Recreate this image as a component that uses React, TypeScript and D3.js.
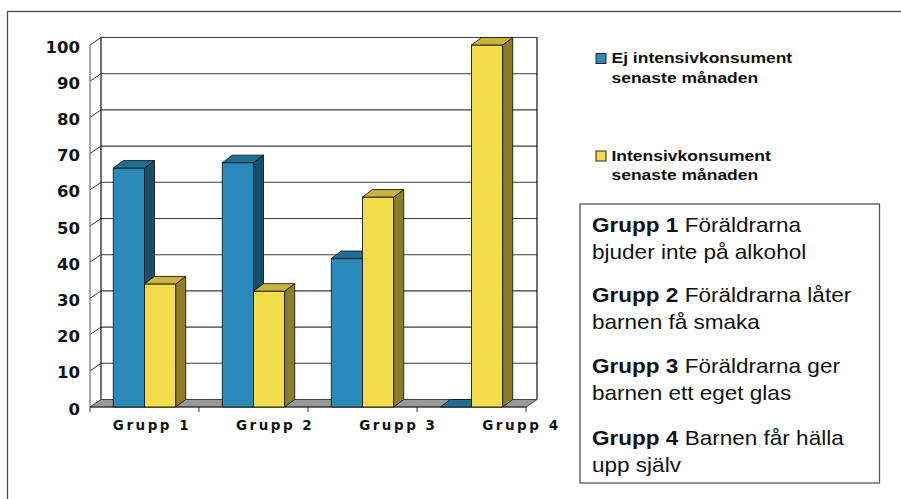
import React from "react";
import * as d3 from "d3";

const groups = ["Grupp 1", "Grupp 2", "Grupp 3", "Grupp 4"];
const seriesNames = ["Ej intensivkonsument", "Intensivkonsument"];
const seriesSub = ["senaste månaden", "senaste månaden"];
const ejValues = [66, 67.5, 41, 0];
const intValues = [34, 32, 58, 100];
const yTicks = [0, 10, 20, 30, 40, 50, 60, 70, 80, 90, 100];
const boxBold = ["Grupp 1", "Grupp 2", "Grupp 3", "Grupp 4"];
const boxRest = [" Föräldrarna", " Föräldrarna låter", " Föräldrarna ger", " Barnen får hälla"];
const boxSecond = ["bjuder inte på alkohol", "barnen få smaka", "barnen ett eget glas", "upp själv"];

const W = 901;
const H = 499;

const blue = { front: "#2a8aba", top: "#1f6e95", side: "#174f6a" };
const yellow = { front: "#f3dc4a", top: "#c9b53c", side: "#8b7e2a" };
const colors = [blue, yellow];

export default function App() {
  const x0 = 90, x1 = 526;
  const wdx = 11, wdy = -7.5; // wall depth
  const bdx = 10, bdy = -7.5; // bar depth
  const y = d3.scaleLinear().domain([0, 100]).range([407, 45]);
  const xBand = d3.scaleBand<string>().domain(groups).range([x0, x1]).paddingInner(0).paddingOuter(0);
  const inner = d3.scaleBand<number>().domain([0, 1]).range([0, xBand.bandwidth()]).paddingInner(0).paddingOuter(0.745);
  const labelX = d3.scalePoint<string>().domain(groups).range([152, 521.4]);
  const series = [ejValues, intValues];
  const base = y(0);
  const stroke = "#1a1a1a";

  const bars: React.ReactNode[] = [];
  groups.forEach((g, gi) => {
    [0, 1].forEach((si) => {
      const v = series[si][gi];
      const bx = (xBand(g) as number) + (inner(si) as number);
      const bw = inner.bandwidth();
      const top = y(v);
      const c = colors[si];
      const key = `${gi}-${si}`;
      bars.push(
        <g key={key}>
          {v > 0 && (
            <>
              <rect x={bx} y={top} width={bw} height={base - top} fill={c.front} stroke={stroke} strokeWidth={0.9} />
              <polygon
                points={`${bx + bw},${top} ${bx + bw + bdx},${top + bdy} ${bx + bw + bdx},${base + bdy} ${bx + bw},${base}`}
                fill={c.side}
                stroke={stroke}
                strokeWidth={0.9}
              />
            </>
          )}
          <polygon
            points={`${bx},${top} ${bx + bdx},${top + bdy} ${bx + bw + bdx},${top + bdy} ${bx + bw},${top}`}
            fill={c.top}
            stroke={stroke}
            strokeWidth={0.9}
          />
        </g>
      );
    });
  });

  const sans = "'Liberation Sans', Arial, sans-serif";
  const axisFont = "'DejaVu Sans', Verdana, sans-serif";
  const boxBaselines = [232, 259, 302, 329, 373, 400, 445, 472];
  const sx = 1.25;
  const bsx = 1.1;

  return (
    <div style={{ position: "fixed", left: 0, top: 0, width: W, height: H, background: "#fff" }}>
      <svg width={W} height={H} style={{ display: "block" }}>
        <rect x={0} y={0} width={W} height={H} fill="#fff" />
        <rect x={7.5} y={11.5} width={1000} height={1000} fill="none" stroke="#4a4a4a" strokeWidth={1.3} />

        {/* back wall gridlines */}
        {yTicks.filter((t) => t > 0).map((t) => (
          <g key={`g${t}`}>
            <line x1={x0 + wdx} x2={x1 + wdx} y1={y(t) + wdy} y2={y(t) + wdy} stroke="#3a3a3a" strokeWidth={1.1} />
            <line x1={x0} x2={x0 + wdx} y1={y(t)} y2={y(t) + wdy} stroke="#3a3a3a" strokeWidth={1} />
          </g>
        ))}
        <line x1={x0 + wdx} x2={x0 + wdx} y1={y(100) + wdy} y2={base + wdy} stroke="#111" strokeWidth={1.2} />
        <line x1={x1 + wdx} x2={x1 + wdx} y1={y(100) + wdy} y2={base + wdy} stroke="#111" strokeWidth={1.2} />
        <line x1={x0} x2={x0} y1={y(100)} y2={base} stroke="#555" strokeWidth={1} />

        {/* floor */}
        <polygon
          points={`${x0},${base} ${x1},${base} ${x1 + wdx},${base + wdy} ${x0 + wdx},${base + wdy}`}
          fill="#999"
          stroke="#333"
          strokeWidth={0.9}
        />
        <line x1={x0} x2={x1} y1={base} y2={base} stroke="#333" strokeWidth={1} />
        {[...groups.map((g) => xBand(g) as number), x1].map((tx, i) => (
          <line key={`t${i}`} x1={tx} x2={tx} y1={base} y2={base + 5} stroke="#333" strokeWidth={1} />
        ))}

        {bars}

        {/* y axis labels */}
        {yTicks.map((t) => (
          <text key={`yl${t}`} x={80} y={y(t) + 7.5} textAnchor="end" fontFamily={axisFont} fontWeight="bold" fontSize={16.5} fill="#111">
            {t}
          </text>
        ))}
        {/* x labels */}
        {groups.map((g) => (
          <text key={`xl${g}`} x={labelX(g) as number} y={430} textAnchor="middle" fontFamily={axisFont} fontWeight="bold" fontSize={13.5} letterSpacing={2.5} fill="#111">
            {g}
          </text>
        ))}

        {/* legend */}
        {seriesNames.map((s, i) => {
          const ly = [53.5, 151][i];
          return (
            <g key={`lg${i}`}>
              <rect x={596} y={ly} width={10} height={10} fill={colors[i].front} stroke="#222" strokeWidth={1} />
              <text transform={`translate(611.5,${ly + 9.5}) scale(${sx},1)`} fontFamily={sans} fontWeight="bold" fontSize={14} fill="#111">
                {s}
              </text>
              <text transform={`translate(611.5,${ly + 29}) scale(${sx},1)`} fontFamily={sans} fontWeight="bold" fontSize={14} fill="#111">
                {seriesSub[i]}
              </text>
            </g>
          );
        })}

        {/* text box */}
        <rect x={580} y={204} width={299.5} height={279} fill="#fff" stroke="#555" strokeWidth={1.3} />
        {boxBold.map((b, i) => (
          <g key={`bx${i}`}>
            <text transform={`translate(592,${boxBaselines[i * 2]}) scale(${bsx},1)`} fontFamily={sans} fontSize={20.5} fill="#111">
              <tspan fontWeight="bold">{b}</tspan>
              <tspan>{boxRest[i]}</tspan>
            </text>
            <text transform={`translate(592,${boxBaselines[i * 2 + 1]}) scale(${bsx},1)`} fontFamily={sans} fontSize={20.5} fill="#111">
              {boxSecond[i]}
            </text>
          </g>
        ))}
      </svg>
    </div>
  );
}
